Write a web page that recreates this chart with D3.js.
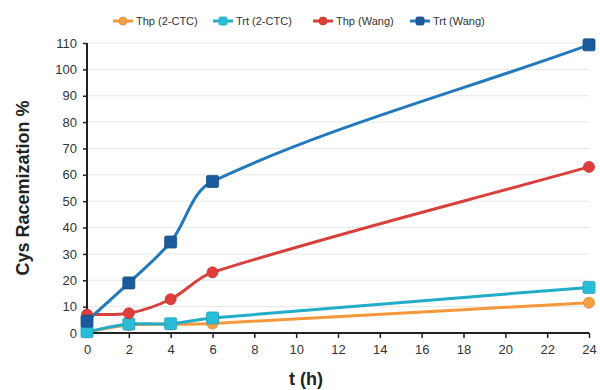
<!DOCTYPE html>
<html lang="en">
<head>
  <meta charset="UTF-8">
  <title>Cys Racemization</title>
  <script src="https://d3js.org/d3.v7.min.js"></script>
  <style>
    body { margin: 0; background: #fff; font-family: "Liberation Sans", Arial, sans-serif; }
    .tick text { font-size: 13px; fill: #333; }
    .axis-label { font-size: 18px; font-weight: bold; fill: #222; }
    .legend text { font-size: 11px; fill: #333; }
  </style>
</head>
<body>
  <div id="chart"></div>
  <script>
    const times = [0, 2, 4, 6, 24];
    const xTicks = [0, 2, 4, 6, 8, 10, 12, 14, 16, 18, 20, 22, 24];
    const yTicks = [0, 10, 20, 30, 40, 50, 60, 70, 80, 90, 100, 110];
    const seriesNames = ["Thp (2-CTC)", "Trt (2-CTC)", "Thp (Wang)", "Trt (Wang)"];
    const thp2ctc = [0.5, 3, 3.3, 3.6, 11.5];
    const trt2ctc = [0.5, 3.4, 3.5, 5.7, 17.3];
    const thpWang = [7, 7.5, 12.8, 23, 63];
    const trtWang = [4.5, 19, 34.5, 57.5, 109.3];

    const series = [
      { name: seriesNames[0], values: thp2ctc, line: "#f5973a", fill: "#f5a040", shape: "circle" },
      { name: seriesNames[1], values: trt2ctc, line: "#21adc8", fill: "#29bcd6", shape: "square" },
      { name: seriesNames[2], values: thpWang, line: "#d9403b", fill: "#df3f3a", shape: "circle" },
      { name: seriesNames[3], values: trtWang, line: "#2379bd", fill: "#1b5a9c", shape: "square" }
    ];

    const width = 600, height = 390;
    const x0 = 87, x1 = 589, y0 = 333, y1 = 43;

    const svg = d3.select("#chart").append("svg")
      .attr("width", width)
      .attr("height", height);

    const x = d3.scaleLinear().domain([0, 24]).range([x0, x1]);
    const y = d3.scaleLinear().domain([0, 110]).range([y0, y1]);

    // gridlines
    svg.append("g")
      .selectAll("line")
      .data(yTicks.slice(1))
      .enter().append("line")
      .attr("x1", x0).attr("x2", x1)
      .attr("y1", d => y(d)).attr("y2", d => y(d))
      .attr("stroke", "#e6e6e6").attr("stroke-width", 1);

    const yAxis = svg.append("g")
      .attr("transform", `translate(${x0},0)`)
      .call(d3.axisLeft(y).tickValues(yTicks).tickSize(4).tickPadding(6));
    yAxis.select(".domain").attr("stroke", "#222").attr("stroke-width", 2).attr("d", `M0,${y1}V${y0}`);
    yAxis.selectAll(".tick line").attr("stroke", "#222").attr("stroke-width", 1.5);

    const xAxis = svg.append("g")
      .attr("transform", `translate(0,${y0})`)
      .call(d3.axisBottom(x).tickValues(xTicks).tickSize(5).tickPadding(7));
    xAxis.select(".domain").attr("stroke", "#222").attr("stroke-width", 2).attr("d", `M${x0},0H${x1}`);
    xAxis.selectAll(".tick line").attr("stroke", "#222").attr("stroke-width", 1.5);

    svg.append("text")
      .attr("class", "axis-label")
      .attr("transform", `translate(29,188) rotate(-90)`)
      .attr("text-anchor", "middle")
      .text("Cys Racemization %");

    svg.append("text")
      .attr("class", "axis-label")
      .attr("x", 306).attr("y", 385)
      .attr("text-anchor", "middle")
      .text("t (h)");

    // Excel-like smoothing: Catmull-Rom tangents weighted by segment length
    function ExcelCurve(context) { this._context = context; }
    ExcelCurve.prototype = {
      areaStart() {}, areaEnd() {},
      lineStart() { this._pts = []; },
      point(px, py) { this._pts.push([+px, +py]); },
      lineEnd() {
        const p = this._pts, c = this._context, n = p.length;
        if (!n) return;
        const dist = (a, b) => Math.hypot(b[0] - a[0], b[1] - a[1]);
        c.moveTo(p[0][0], p[0][1]);
        for (let i = 0; i < n - 1; i++) {
          const a = p[i - 1] || p[i], b = p[i], q = p[i + 1], r = p[i + 2] || p[i + 1];
          const dab = dist(a, b), dbq = dist(b, q), dqr = dist(q, r);
          const f1 = dbq / (dab + dbq || 1) / 3;
          const f2 = dbq / (dbq + dqr || 1) / 3;
          c.bezierCurveTo(
            b[0] + (q[0] - a[0]) * f1, b[1] + (q[1] - a[1]) * f1,
            q[0] - (r[0] - b[0]) * f2, q[1] - (r[1] - b[1]) * f2,
            q[0], q[1]);
        }
      }
    };
    const curveExcel = ctx => new ExcelCurve(ctx);

    const line = d3.line()
      .x((d, i) => x(times[i]))
      .y(d => y(d))
      .curve(curveExcel);

    function marker(g, s, cx, cy, size) {
      if (s.shape === "circle") {
        g.append("circle").attr("cx", cx).attr("cy", cy).attr("r", size / 2)
          .attr("fill", s.fill).attr("stroke", d3.color(s.fill).darker(0.4)).attr("stroke-width", 0.8);
      } else {
        g.append("rect").attr("x", cx - size / 2).attr("y", cy - size / 2)
          .attr("width", size).attr("height", size).attr("rx", 1.5)
          .attr("fill", s.fill).attr("stroke", d3.color(s.fill).darker(0.4)).attr("stroke-width", 0.8);
      }
    }

    series.forEach(s => {
      svg.append("path")
        .datum(s.values)
        .attr("fill", "none")
        .attr("stroke", s.line)
        .attr("stroke-width", 3)
        .attr("d", line);
    });
    series.forEach(s => {
      const g = svg.append("g");
      s.values.forEach((v, i) => marker(g, s, x(times[i]), y(v), s.shape === "circle" ? 11 : 12));
    });

    // legend
    const legendX = [113, 213, 313, 410];
    const legend = svg.append("g").attr("class", "legend");
    series.forEach((s, i) => {
      const g = legend.append("g").attr("transform", `translate(${legendX[i]},21)`);
      g.append("line").attr("x1", 0).attr("x2", 20).attr("y1", 0).attr("y2", 0)
        .attr("stroke", s.line).attr("stroke-width", 3);
      marker(g, s, 10, 0, 8);
      g.append("text").attr("x", 23).attr("y", 4).text(s.name);
    });
  </script>
</body>
</html>
